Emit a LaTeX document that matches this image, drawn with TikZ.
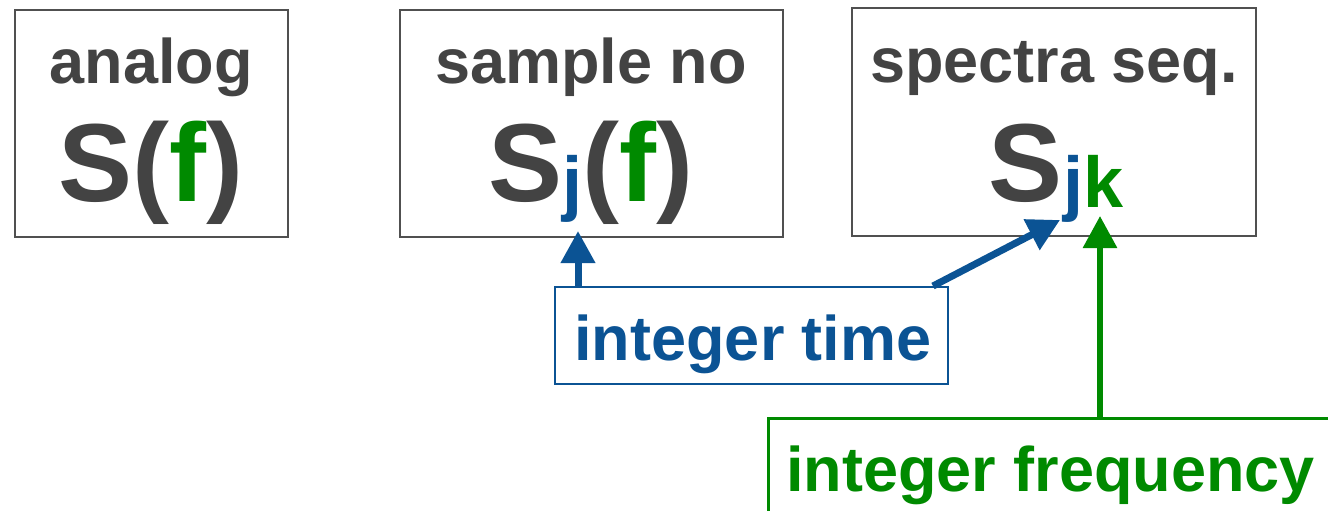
\documentclass[tikz,border=0pt]{standalone}
\usepackage{fontspec}
\setmainfont{Liberation Sans}
\usetikzlibrary{arrows.meta,calc}
\definecolor{tgray}{HTML}{434343}
\definecolor{bgray}{HTML}{505050}
\definecolor{tblue}{HTML}{0B5394}
\definecolor{tgreen}{HTML}{008A00}
\newcommand{\subx}[2]{\raisebox{-6pt}{\fontsize{72}{72}\selectfont\textcolor{#1}{#2}}}
\begin{document}
\begin{tikzpicture}[x=1pt,y=-1pt,
  frame/.style={draw=bgray,line width=2pt,inner sep=0pt},
  lab/.style={font=\fontsize{63}{63}\selectfont\bfseries,text=tgray,anchor=base,inner sep=0pt},
  big/.style={font=\fontsize{111}{111}\selectfont\bfseries,text=tgray,anchor=base,inner sep=0pt},
  barrow/.style={draw=tblue,line width=7pt,-{Triangle[length=32pt,width=33pt]}},
  garrow/.style={draw=tgreen,line width=6pt,-{Triangle[length=32pt,width=33pt]}}]
\useasboundingbox (0,0) rectangle (1328,511);
\node[frame,minimum width=273pt,minimum height=227pt] (b1) at (151.5,123.5) {};
\node[frame,minimum width=383pt,minimum height=227pt] (b2) at (591.5,123.5) {};
\node[frame,minimum width=404pt,minimum height=228pt] (b3) at (1054,122) {};
\node[lab] (t1) at (151,83) {analog};
\node[big] (s1) at (151,201) {S(\textcolor{tgreen}{f})};
\node[lab] (t2) at (591,83) {sample no};
\node[big] (s2) at (591,201) {S\subx{tblue}{j}(\textcolor{tgreen}{f})};
\node[lab] (t3) at (1054,82) {spectra seq.};
\node[big] (s3) at (1056,201) {S\subx{tblue}{j}\subx{tgreen}{k}};
\node[draw=tblue,line width=2pt,inner sep=0pt,minimum width=393pt,minimum height=97pt] (timebox) at (751.5,335.5) {};
\node[font=\fontsize{63}{63}\selectfont\bfseries,text=tblue,anchor=base,inner sep=0pt] (tt) at (753,360) {integer time};
\node[draw=tgreen,line width=3pt,inner sep=0pt,minimum width=600pt,minimum height=142pt] (freqbox) at (1068,489) {};
\node[font=\fontsize{63}{63}\selectfont\bfseries,text=tgreen,anchor=base west,inner sep=0pt] (ft) at (786,491) {integer frequency};
\coordinate (tipA) at (578,231);
\coordinate (tipB) at (1060,220);
\coordinate (tipC) at (1100,216);
\draw[barrow] (timebox.north west -| tipA) -- (tipA);
\draw[barrow] ($(timebox.north east)+(-16,0)$) -- (tipB);
\draw[garrow] (freqbox.north -| tipC) -- (tipC);
\end{tikzpicture}
\end{document}
